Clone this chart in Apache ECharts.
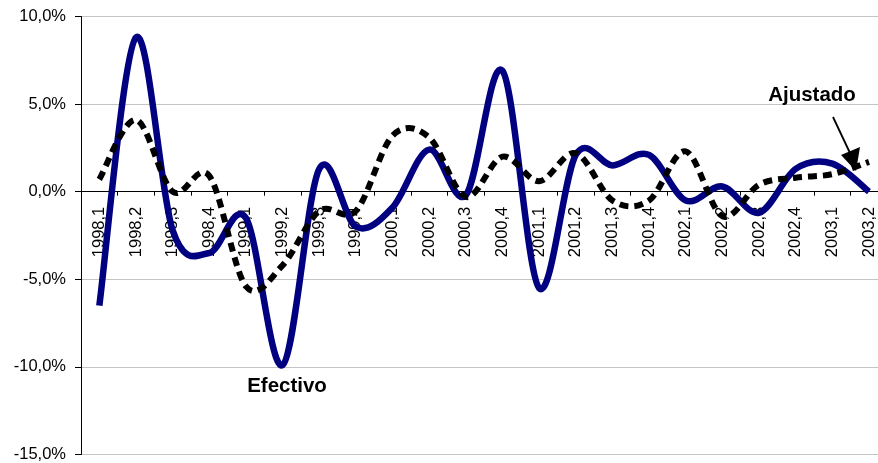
<!DOCTYPE html>
<html>
<head>
<meta charset="utf-8">
<script src="https://cdn.jsdelivr.net/npm/echarts@6/dist/echarts.min.js"></script>
<style>
  html, body { margin: 0; padding: 0; background: #ffffff; }
  #chart { width: 878px; height: 463px; }
</style>
</head>
<body>
<div id="chart"></div>
<script>
// Quarterly periods (year,quarter)
const quarters = [
  '1998,1', '1998,2', '1998,3', '1998,4',
  '1999,1', '1999,2', '1999,3', '1999,4',
  '2000,1', '2000,2', '2000,3', '2000,4',
  '2001,1', '2001,2', '2001,3', '2001,4',
  '2002,1', '2002,2', '2002,3', '2002,4',
  '2003,1', '2003,2'
];

// Actual series (%)
const efectivo = [
  -6.5, 8.8, -2.2, -3.5,
  -1.5, -9.9, 1.3, -2.0,
  -0.9, 2.4, -0.2, 6.9,
  -5.5, 2.1, 1.5, 2.1,
  -0.5, 0.3, -1.2, 1.3,
  1.6, 0.0
];

// Adjusted series (%)
const ajustado = [
  0.7, 4.1, 0.0, 0.9,
  -5.4, -4.2, -1.1, -1.1,
  3.2, 3.1, -0.3, 2.0,
  0.6, 2.2, -0.5, -0.5,
  2.3, -1.4, 0.4, 0.8,
  1.0, 1.7
];

// Value axis range and step (%)
const yMin = -15;
const yMax = 10;
const yStep = 5;

const FONT = '"Liberation Sans", Arial, sans-serif';
const W = 878, H = 463;
const GRID = { left: 81, right: -9.3, top: 16.5, bottom: 8.5 };
const plotHeight = H - GRID.top - GRID.bottom;
// shift the category axis up from the grid bottom to the zero line
const zeroOffset = -plotHeight * (0 - yMin) / (yMax - yMin);

// Smooth curve through every point (cubic Bezier, Catmull-Rom tangents),
// positioned with the chart's own coordinate mapping.
function curvePath(values, api) {
  const pts = values.map((v, i) => api.coord([i, v]));
  let d = 'M' + pts[0][0] + ',' + pts[0][1];
  for (let i = 0; i < pts.length - 1; i++) {
    const p0 = pts[i - 1] || pts[i];
    const p1 = pts[i];
    const p2 = pts[i + 1];
    const p3 = pts[i + 2] || pts[i + 1];
    const c1x = p1[0] + (p2[0] - p0[0]) / 6;
    const c1y = p1[1] + (p2[1] - p0[1]) / 6;
    const c2x = p2[0] - (p3[0] - p1[0]) / 6;
    const c2y = p2[1] - (p3[1] - p1[1]) / 6;
    d += ' C' + c1x + ',' + c1y + ' ' + c2x + ',' + c2y + ' ' + p2[0] + ',' + p2[1];
  }
  return d;
}

function curveSeries(name, values, lineStyle, z) {
  return {
    name: name,
    type: 'custom',
    coordinateSystem: 'cartesian2d',
    data: values.map((v, i) => [i, v]),
    encode: { x: 0, y: 1 },
    clip: false,
    z: z,
    renderItem: function (params, api) {
      if (params.dataIndex !== 0) return null;
      return {
        type: 'path',
        shape: { pathData: curvePath(values, api) },
        style: Object.assign({ fill: 'none' }, lineStyle)
      };
    }
  };
}

const chart = echarts.init(document.getElementById('chart'), null, { renderer: 'canvas' });

chart.setOption({
  animation: false,
  backgroundColor: '#ffffff',
  grid: {
    left: GRID.left,
    right: GRID.right,
    top: GRID.top,
    bottom: GRID.bottom,
    outerBoundsMode: 'none'
  },
  xAxis: {
    type: 'category',
    data: quarters,
    boundaryGap: true,
    position: 'bottom',
    offset: zeroOffset,
    axisLine: { onZero: false, lineStyle: { color: '#000000', width: 1 } },
    axisTick: { show: true, length: 4, inside: false, lineStyle: { color: '#000000' } },
    axisLabel: {
      show: true,
      rotate: 90,
      interval: 0,
      margin: 15,
      color: '#000000',
      fontFamily: FONT,
      fontSize: 16.5
    },
    splitLine: { show: false }
  },
  yAxis: {
    type: 'value',
    min: yMin,
    max: yMax,
    interval: yStep,
    axisLine: { show: true, lineStyle: { color: '#000000', width: 1 } },
    axisTick: { show: true, length: 6, lineStyle: { color: '#000000' } },
    axisLabel: {
      margin: 15,
      color: '#000000',
      fontFamily: FONT,
      fontSize: 16.5,
      formatter: v => v.toFixed(1).replace('.', ',') + '%'
    },
    splitLine: { show: true, lineStyle: { color: '#c4c4c4', width: 1.2 } }
  },
  series: [
    curveSeries('Efectivo', efectivo,
      { stroke: '#000080', lineWidth: 6.5, lineCap: 'butt', lineJoin: 'round' }, 2),
    curveSeries('Ajustado', ajustado,
      { stroke: '#000000', lineWidth: 6, lineDash: [9, 6], lineCap: 'butt' }, 3)
  ],
  graphic: [
    {
      type: 'text',
      x: 287, y: 386,
      style: {
        text: 'Efectivo',
        font: 'bold 20.5px ' + FONT,
        fill: '#000000',
        align: 'center',
        verticalAlign: 'middle'
      },
      z: 10
    },
    {
      type: 'text',
      x: 812, y: 95,
      style: {
        text: 'Ajustado',
        font: 'bold 20.5px ' + FONT,
        fill: '#000000',
        align: 'center',
        verticalAlign: 'middle'
      },
      z: 10
    },
    {
      // pointer from the "Ajustado" label to the adjusted curve
      type: 'line',
      shape: { x1: 833, y1: 117, x2: 850, y2: 153 },
      style: { stroke: '#000000', lineWidth: 1.8 },
      z: 10
    },
    {
      type: 'polygon',
      shape: { points: [[841, 155], [860, 147], [856, 171]] },
      style: { fill: '#000000' },
      z: 10
    }
  ]
});
</script>
</body>
</html>
